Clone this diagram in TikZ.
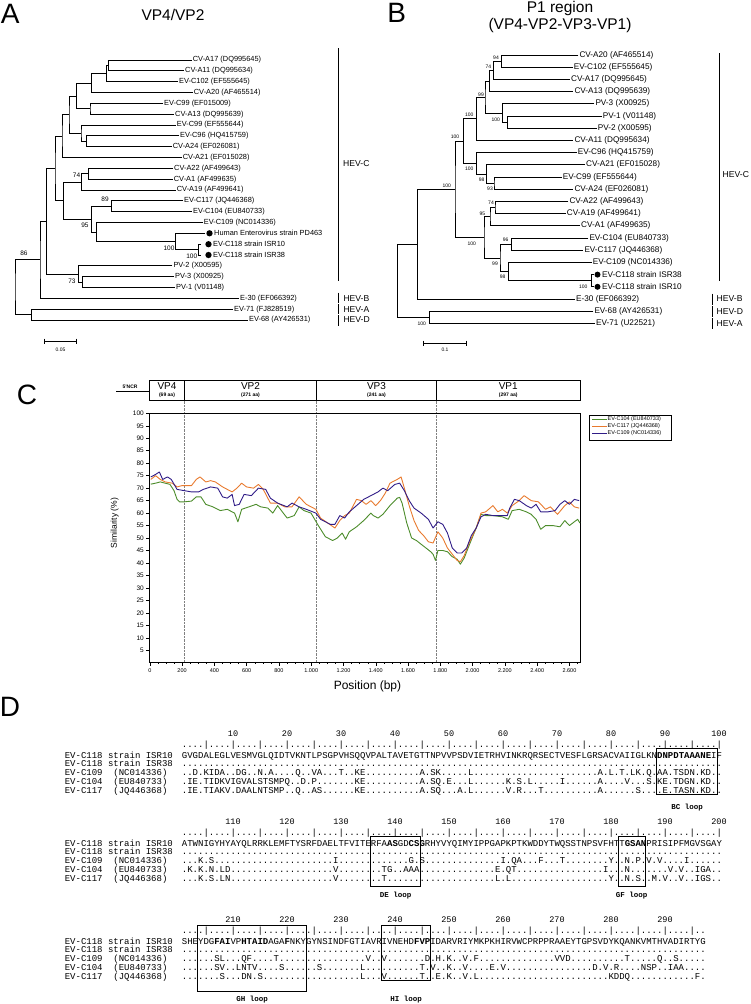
\documentclass[tikz,border=0pt]{standalone}
\usepackage{fontspec}
\setmainfont{Liberation Sans}
\newfontfamily\seqfont{Liberation Mono}
\newcommand{\dotrun}[1]{\foreach \k in {1,...,#1}{.}}
\definecolor{cvgreen}{HTML}{4C8C2B}
\definecolor{cvorange}{HTML}{E87A2E}
\definecolor{cvpurple}{HTML}{301C87}
\tikzset{
  branch/.style={line width=0.7pt},
  cladebar/.style={line width=0.9pt},
  leafA/.style={anchor=west, inner sep=1pt, font=\fontsize{7.4}{8}\selectfont},
  leafB/.style={anchor=west, inner sep=1pt, font=\fontsize{8.2}{9}\selectfont},
  bootA/.style={inner sep=0pt, font=\fontsize{6.5}{7}\selectfont},
  bootB/.style={inner sep=0pt, font=\fontsize{5}{6}\selectfont},
  clade/.style={anchor=west, inner sep=0pt, font=\fontsize{8.6}{9}\selectfont},
  strain/.style={circle, fill=black, inner sep=0pt, minimum size=6.3pt},
  panel/.style={inner sep=0pt, font=\fontsize{28}{28}\selectfont},
  title/.style={inner sep=0pt, align=center, font=\fontsize{15.5}{17.5}\selectfont},
  scalelab/.style={inner sep=0pt, font=\fontsize{5}{6}\selectfont},
  vpname/.style={inner sep=0pt, font=\fontsize{10}{11}\selectfont},
  vpsize/.style={inner sep=0pt, font=\bfseries\fontsize{5}{6}\selectfont},
  vpsep/.style={densely dotted, gray, line width=0.4pt},
  frame/.style={line width=0.9pt},
  curve/.style={line width=0.9pt, line join=round},
  legendlab/.style={anchor=west, inner sep=0pt, font=\fontsize{5.5}{6}\selectfont},
  seqrow/.style={anchor=base west, inner sep=0pt, font=\seqfont\fontsize{9}{9}\selectfont},
  seqnum/.style={anchor=base, inner sep=0pt, font=\seqfont\fontsize{8.5}{9}\selectfont},
  loopbox/.style={line width=0.8pt},
  looplab/.style={anchor=base, inner sep=0pt, font=\seqfont\bfseries\fontsize{7.5}{8}\selectfont}
}
\begin{document}
\begin{tikzpicture}[x=1pt,y=-1pt]
\useasboundingbox (0,0) rectangle (750,1004);

\node[panel] (pA) at (10.3,14.2) {A};
\node[title] (tA) at (173,14.5) {VP4/VP2};
\node[panel] (pB) at (396.7,12.5) {B};
\node[title] (tB) at (560,17) {P1 region\\(VP4-VP2-VP3-VP1)};

% tree A
\node[leafA] (a17) at (191.7,60) {CV-A17 (DQ995645)};
\node[leafA] (a11) at (184,70.8) {CV-A11 (DQ995634)};
\node[leafA] (c102) at (178,81.7) {EV-C102 (EF555645)};
\node[leafA] (a20) at (192.7,92.5) {CV-A20 (AF465514)};
\node[leafA] (c99x) at (163,103.3) {EV-C99 (EF015009)};
\node[leafA] (a13) at (174,114.2) {CV-A13 (DQ995639)};
\node[leafA] (c99) at (175.7,125) {EV-C99 (EF555644)};
\node[leafA] (c96) at (179,135.8) {EV-C96 (HQ415759)};
\node[leafA] (a24) at (171.7,146.7) {CV-A24 (EF026081)};
\node[leafA] (a21) at (181.7,157.5) {CV-A21 (EF015028)};
\node[leafA] (a22) at (173,168.3) {CV-A22 (AF499643)};
\node[leafA] (a1) at (172.7,179.2) {CV-A1 (AF499635)};
\node[leafA] (a19) at (175.7,190) {CV-A19 (AF499641)};
\node[leafA] (c117) at (183,200.8) {EV-C117 (JQ446368)};
\node[leafA] (c104) at (192,211.7) {EV-C104 (EU840733)};
\node[leafA] (c109) at (202.7,222.5) {EV-C109 (NC014336)};
\coordinate (tpd) at (205,233.3);
\node[strain] (dpd) at (209.5,233.3) {};
\node[leafA] (pd) at (213,233.3) {Human Enterovirus strain PD463};
\coordinate (tisr10) at (201,244.2);
\node[strain] (disr10) at (208.5,244.2) {};
\node[leafA] (isr10) at (212,244.2) {EV-C118 strain ISR10};
\coordinate (tisr38) at (201,255);
\node[strain] (disr38) at (208.5,255) {};
\node[leafA] (isr38) at (212,255) {EV-C118 strain ISR38};
\node[leafA] (pv2) at (172.3,265.8) {PV-2 (X00595)};
\node[leafA] (pv3) at (174,276.7) {PV-3 (X00925)};
\node[leafA] (pv1) at (175,287.5) {PV-1 (V01148)};
\node[leafA] (e30) at (239,298.3) {E-30 (EF066392)};
\node[leafA] (ev71) at (233,309.2) {EV-71 (FJ828519)};
\node[leafA] (ev68) at (248,320) {EV-68 (AY426531)};

\coordinate (kA1) at (108.3,65.4);
\coordinate (kA2) at (106.7,73.6);
\coordinate (kA3) at (91.7,83);
\coordinate (kA4) at (90,108.8);
\coordinate (kA5) at (76.7,95.9);
\coordinate (kA6) at (86.7,141.3);
\coordinate (kA7) at (81,133.1);
\coordinate (kA8) at (69,114.5);
\coordinate (kA9) at (62,136);
\coordinate (kA10) at (88.3,173.8);
\coordinate (kA11) at (81.7,181.9);
\coordinate (kA12) at (111.7,206.3);
\coordinate (kA13) at (198.5,249.6);
\coordinate (kA14) at (175.7,241.5);
\coordinate (kA15) at (96.7,232);
\coordinate (kA16) at (91.7,219.2);
\coordinate (kA17) at (63.3,200.5);
\coordinate (kA18) at (55,168.3);
\coordinate (kA19) at (82.7,282.1);
\coordinate (kA20) at (78.3,273.9);
\coordinate (kA21) at (46.7,221.1);
\coordinate (kA22) at (40,259.7);
\coordinate (kA23) at (31.7,314.6);
\coordinate (kA0) at (15,287.2);

\draw[branch] (a17.west) -| (kA1) |- (a11.west);
\draw[branch] (kA1) -| (kA2) |- (c102.west);
\draw[branch] (kA2) -| (kA3) |- (a20.west);
\draw[branch] (c99x.west) -| (kA4) |- (a13.west);
\draw[branch] (kA3) -| (kA5) |- (kA4);
\draw[branch] (c96.west) -| (kA6) |- (a24.west);
\draw[branch] (c99.west) -| (kA7) |- (kA6);
\draw[branch] (kA5) -| (kA8) |- (kA7);
\draw[branch] (kA8) -| (kA9) |- (a21.west);
\draw[branch] (a22.west) -| (kA10) |- (a1.west);
\draw[branch] (kA10) -| (kA11) |- (a19.west);
\draw[branch] (c117.west) -| (kA12) |- (c104.west);
\draw[branch] (tisr10) -| (kA13) |- (tisr38);
\draw[branch] (tpd) -| (kA14) |- (kA13);
\draw[branch] (c109.west) -| (kA15) |- (kA14);
\draw[branch] (kA12) -| (kA16) |- (kA15);
\draw[branch] (kA11) -| (kA17) |- (kA16);
\draw[branch] (kA9) -| (kA18) |- (kA17);
\draw[branch] (pv3.west) -| (kA19) |- (pv1.west);
\draw[branch] (pv2.west) -| (kA20) |- (kA19);
\draw[branch] (kA18) -| (kA21) |- (kA20);
\draw[branch] (kA21) -| (kA22) |- (e30.west);
\draw[branch] (ev71.west) -| (kA23) |- (ev68.west);
\draw[branch] (kA22) -| (kA0) |- (kA23);

\node[bootA] (bsA74) at (76.5,175.5) {74};
\node[bootA] (bsA89) at (105,199.5) {89};
\node[bootA] (bsA95) at (85,225.5) {95};
\node[bootA] (bsA100a) at (169,248.3) {100};
\node[bootA] (bsA100b) at (191.7,256.3) {100};
\node[bootA] (bsA86) at (24,253.5) {86};
\node[bootA] (bsA73) at (72,280.8) {73};

\coordinate (hcA1) at (338.3,48.3);
\coordinate (hcA2) at (338.3,280.7);
\draw[cladebar] (hcA1) -- (hcA2);
\node[clade] (hevcA) at (343,164) {HEV-C};
\coordinate (hbA1) at (338.3,292.7);
\coordinate (hbA2) at (338.3,303);
\draw[cladebar] (hbA1) -- (hbA2);
\node[clade] (hevbA) at (343.3,298.3) {HEV-B};
\coordinate (haA1) at (338.3,304.3);
\coordinate (haA2) at (338.3,314);
\draw[cladebar] (haA1) -- (haA2);
\node[clade] (hevaA) at (343.3,309.2) {HEV-A};
\coordinate (hdA1) at (338.3,315);
\coordinate (hdA2) at (338.3,325.5);
\draw[cladebar] (hdA1) -- (hdA2);
\node[clade] (hevdA) at (343.3,320) {HEV-D};

\draw[branch] (44.5,338.5) -- (44.5,343.5) (44.5,341) -- (76.5,341) (76.5,338.5) -- (76.5,343.5);
\node[scalelab] (sA) at (60.5,350) {0.05};

% tree B
\node[leafB] (bA20) at (578.3,55) {CV-A20 (AF465514)};
\node[leafB] (bC102) at (572.7,67.2) {EV-C102 (EF555645)};
\node[leafB] (bA17) at (570,79.4) {CV-A17 (DQ995645)};
\node[leafB] (bA13) at (573.3,91.6) {CV-A13 (DQ995639)};
\node[leafB] (bPV3) at (594.3,103.8) {PV-3 (X00925)};
\node[leafB] (bPV1) at (601.7,116) {PV-1 (V01148)};
\node[leafB] (bPV2) at (596.7,128.2) {PV-2 (X00595)};
\node[leafB] (bA11) at (573.3,140.4) {CV-A11 (DQ995634)};
\node[leafB] (bC96) at (576.7,152.6) {EV-C96 (HQ415759)};
\node[leafB] (bA21) at (585,164.8) {CV-A21 (EF015028)};
\node[leafB] (bC99) at (561.7,177) {EV-C99 (EF555644)};
\node[leafB] (bA24) at (573.3,189.2) {CV-A24 (EF026081)};
\node[leafB] (bA22) at (568.3,201.4) {CV-A22 (AF499643)};
\node[leafB] (bA19) at (565.7,213.6) {CV-A19 (AF499641)};
\node[leafB] (bA1) at (580,225.8) {CV-A1 (AF499635)};
\node[leafB] (bC104) at (588.3,238) {EV-C104 (EU840733)};
\node[leafB] (bC117) at (583.3,250.2) {EV-C117 (JQ446368)};
\node[leafB] (bC109) at (591.7,262.4) {EV-C109 (NC014336)};
\coordinate (tb38) at (593.5,274.6);
\node[strain, minimum size=6pt] (db38) at (597.5,274.6) {};
\node[leafB] (bISR38) at (601,274.6) {EV-C118 strain ISR38};
\coordinate (tb10) at (593.5,286.8);
\node[strain, minimum size=6pt] (db10) at (597.5,286.8) {};
\node[leafB] (bISR10) at (601,286.8) {EV-C118 strain ISR10};
\node[leafB] (bE30) at (575,299) {E-30 (EF066392)};
\node[leafB] (bEV68) at (593.3,311.2) {EV-68 (AY426531)};
\node[leafB] (bEV71) at (595,323.4) {EV-71 (U22521)};

\coordinate (kB1) at (501.7,61.1);
\coordinate (kB2) at (493.7,70.3);
\coordinate (kB3) at (489.3,81);
\coordinate (kB4) at (507.7,122.1);
\coordinate (kB5) at (502.7,113);
\coordinate (kB6) at (485,97);
\coordinate (kB7) at (476.7,118.7);
\coordinate (kB8) at (494,183.1);
\coordinate (kB9) at (486.7,174);
\coordinate (kB10) at (476.7,163.3);
\coordinate (kB11) at (463.3,141);
\coordinate (kB12) at (495,207.5);
\coordinate (kB13) at (490,216.7);
\coordinate (kB14) at (511.7,244.1);
\coordinate (kB15) at (591.7,280.7);
\coordinate (kB16) at (508.3,271.6);
\coordinate (kB17) at (500,257.9);
\coordinate (kB18) at (484,237.3);
\coordinate (kB19) at (455,189.2);
\coordinate (kB20) at (417.7,244.1);
\coordinate (kB21) at (429.3,317.3);
\coordinate (kB0) at (397.7,280.7);

\draw[branch] (bA20.west) -| (kB1) |- (bC102.west);
\draw[branch] (kB1) -| (kB2) |- (bA17.west);
\draw[branch] (kB2) -| (kB3) |- (bA13.west);
\draw[branch] (bPV1.west) -| (kB4) |- (bPV2.west);
\draw[branch] (bPV3.west) -| (kB5) |- (kB4);
\draw[branch] (kB3) -| (kB6) |- (kB5);
\draw[branch] (kB6) -| (kB7) |- (bA11.west);
\draw[branch] (bC99.west) -| (kB8) |- (bA24.west);
\draw[branch] (bA21.west) -| (kB9) |- (kB8);
\draw[branch] (bC96.west) -| (kB10) |- (kB9);
\draw[branch] (kB7) -| (kB11) |- (kB10);
\draw[branch] (bA22.west) -| (kB12) |- (bA19.west);
\draw[branch] (kB12) -| (kB13) |- (bA1.west);
\draw[branch] (bC104.west) -| (kB14) |- (bC117.west);
\draw[branch] (tb38) -| (kB15) |- (tb10);
\draw[branch] (bC109.west) -| (kB16) |- (kB15);
\draw[branch] (kB14) -| (kB17) |- (kB16);
\draw[branch] (kB13) -| (kB18) |- (kB17);
\draw[branch] (kB11) -| (kB19) |- (kB18);
\draw[branch] (kB19) -| (kB20) |- (bE30.west);
\draw[branch] (bEV68.west) -| (kB21) |- (bEV71.west);
\draw[branch] (kB20) -| (kB0) |- (kB21);

\node[bootB] (bsB1) at (496,58) {94};
\node[bootB] (bsB2) at (488.3,66.7) {74};
\node[bootB] (bsB3) at (481,95) {99};
\node[bootB] (bsB4) at (495.7,120) {100};
\node[bootB] (bsB5) at (469.3,115) {100};
\node[bootB] (bsB6) at (455,136.7) {100};
\node[bootB] (bsB7) at (469.3,169) {100};
\node[bootB] (bsB8) at (481.7,179.3) {98};
\node[bootB] (bsB9) at (490,189) {93};
\node[bootB] (bsB10) at (446.7,186) {100};
\node[bootB] (bsB11) at (491,202.7) {74};
\node[bootB] (bsB12) at (482.3,213.3) {95};
\node[bootB] (bsB13) at (505.7,240) {96};
\node[bootB] (bsB14) at (471.7,244) {100};
\node[bootB] (bsB15) at (495,263.3) {99};
\node[bootB] (bsB16) at (502.7,276.7) {98};
\node[bootB] (bsB17) at (583.3,286.7) {100};
\node[bootB] (bsB18) at (421.7,324) {100};

\coordinate (hcB1) at (719,53.3);
\coordinate (hcB2) at (719,280.7);
\draw[cladebar] (hcB1) -- (hcB2);
\node[clade] (hevcB) at (722.5,175) {HEV-C};
\coordinate (hbB1) at (712.3,293.5);
\coordinate (hbB2) at (712.3,304.5);
\draw[cladebar] (hbB1) -- (hbB2);
\node[clade] (hevbB) at (716.5,299) {HEV-B};
\coordinate (hdB1) at (712.3,305.7);
\coordinate (hdB2) at (712.3,316.7);
\draw[cladebar] (hdB1) -- (hdB2);
\node[clade] (hevdB) at (716.5,311.2) {HEV-D};
\coordinate (haB1) at (712.3,318);
\coordinate (haB2) at (712.3,329);
\draw[cladebar] (haB1) -- (haB2);
\node[clade] (hevaB) at (716.5,323.4) {HEV-A};

\draw[branch] (423.4,340.5) -- (423.4,345.5) (423.4,343) -- (466.5,343) (466.5,340.5) -- (466.5,345.5);
\node[scalelab] (sB) at (445,350) {0.1};

% panel C
\node[panel] (pC) at (27,395) {C};
\node[vpsize] (ncr) at (130,386.5) {5'NCR};
\draw[line width=1.2pt] (116,391.5) -- (149.8,391.5);
\draw[frame] (149.8,380) rectangle (580,400.7);
\draw[frame] (184.2,380) -- (184.2,400.7) (316.7,380) -- (316.7,400.7) (436.4,380) -- (436.4,400.7);
\node[vpname] (vp4) at (167,386.5) {VP4};
\node[vpsize] (vp4s) at (167,395.5) {(69 aa)};
\node[vpname] (vp2) at (250.5,386.5) {VP2};
\node[vpsize] (vp2s) at (250.5,395.5) {(271 aa)};
\node[vpname] (vp3) at (376.5,386.5) {VP3};
\node[vpsize] (vp3s) at (376.5,395.5) {(241 aa)};
\node[vpname] (vp1) at (508.2,386.5) {VP1};
\node[vpsize] (vp1s) at (508.2,395.5) {(297 aa)};

\begin{scope}[x=0.1614pt, y=2.4937pt, shift={(149.8pt,-662.7pt)}]
\foreach \b in {213,1034,1776} \draw[vpsep] (\b,0) -- (\b,105.1);
\draw[frame] (0,0) rectangle (2665,100);
\foreach \s in {5,10,...,100}
  \draw[line width=0.5pt] (0,\s) -- ++(-4.3pt,0) node[anchor=east, inner sep=1.5pt, font=\fontsize{6.5}{7}\selectfont] {\s};
\foreach \b in {50,100,...,2650} \draw[line width=0.4pt] (\b,0) -- ++(0,-1.6pt);
\foreach \b/\l in {0/0,200/200,400/400,600/600,800/800,1000/1.000,1200/1.200,1400/1.400,1600/1.600,1800/1.800,2000/2.000,2200/2.200,2400/2.400,2600/2.600}
  \draw[line width=0.5pt] (\b,0) -- ++(0,-3pt) node[anchor=north, inner sep=2.5pt, font=\fontsize{5.5}{6}\selectfont] {\l};
\draw[curve, cvgreen] plot coordinates {(6,71.6) (36,72) (65,72.5) (95,72) (125,71.5) (150,69) (169,65.5) (184,64.5) (213,64.5) (258,64.8) (288,66.5) (317,66.5) (347,63.5) (391,62.5) (436,61) (480,61.5) (525,60) (546,56.5) (569,61.5) (614,62.5) (658,63.5) (688,62.5) (732,62) (762,60) (792,63) (821,60.5) (851,58) (895,59) (925,62.5) (955,61) (999,60) (1044,55) (1088,50.5) (1133,49) (1162,50) (1192,52) (1213,49.5) (1236,52.5) (1281,54.5) (1325,57) (1370,60) (1385,59) (1414,58) (1444,59.5) (1488,63) (1533,66) (1548,66.3) (1563,64) (1592,56) (1622,50) (1652,49) (1681,47.5) (1711,46) (1740,44.5) (1755,43.5) (1770,41) (1785,45) (1815,45) (1844,44.5) (1874,42.5) (1904,41.5) (1924,39.5) (1948,42) (1978,47) (2022,54) (2052,59.5) (2081,59) (2126,59) (2185,58.5) (2221,57.5) (2245,61) (2289,61.5) (2333,60.5) (2363,59.5) (2393,57.5) (2422,53.5) (2452,55) (2497,55) (2541,54.5) (2571,57) (2600,55) (2630,56.5) (2651,57.5) (2665,56)};
\draw[curve, cvorange] plot coordinates {(6,73.5) (36,75) (65,73.5) (95,72.5) (139,72) (169,70.5) (199,71) (228,71) (258,71) (288,73.5) (311,74.5) (347,72.5) (377,73) (406,72.5) (451,70.5) (480,69.5) (510,68.5) (540,70) (569,72) (599,70.5) (643,70) (673,71.5) (703,69.5) (747,64) (792,64) (836,62.5) (881,62.5) (925,66.5) (970,63.5) (999,62.5) (1029,61.5) (1058,58) (1103,56) (1147,54) (1177,57) (1207,59) (1236,60) (1281,65.5) (1311,65) (1340,63.5) (1370,65) (1399,63) (1429,65) (1459,68) (1488,72) (1533,73.5) (1557,74.5) (1577,70) (1607,63) (1637,57) (1666,53) (1696,51) (1726,48.5) (1755,48) (1785,52.5) (1815,50) (1844,46) (1874,43.5) (1904,41) (1924,40.5) (1948,43) (1978,48) (2022,54) (2052,60) (2081,60.5) (2126,63) (2156,60.5) (2185,61.5) (2215,60) (2245,63) (2289,65) (2319,67) (2363,65) (2408,64.5) (2452,61.5) (2482,62.5) (2526,59.5) (2571,63) (2600,64.5) (2630,62.5) (2660,62)};
\draw[curve, cvpurple] plot coordinates {(6,74.5) (36,75.5) (59,76.5) (80,73.5) (110,74.5) (133,73.5) (169,69.5) (213,69) (258,68.5) (302,68.5) (332,69.5) (377,70.5) (421,70) (451,66.5) (480,66) (510,67.5) (525,63) (554,63.5) (584,67.5) (629,67) (673,70) (718,69.5) (747,66) (792,64) (851,62.5) (881,64) (925,62.5) (970,61.5) (1029,60) (1058,57.5) (1088,56.5) (1118,55.5) (1147,55.5) (1177,59) (1207,58) (1236,60.5) (1281,63) (1325,65.5) (1370,67) (1414,68.5) (1444,70) (1474,69) (1518,71.5) (1548,72) (1577,69) (1607,65) (1637,62) (1681,60) (1726,57.5) (1755,54) (1785,56.5) (1815,55.5) (1844,52) (1874,46) (1904,44) (1933,44) (1963,46) (1992,51) (2022,54) (2052,58.5) (2081,59.5) (2126,59) (2170,59) (2215,59) (2230,62) (2259,65.5) (2289,65) (2333,63) (2363,62) (2393,63.5) (2422,60.5) (2467,60.5) (2511,61) (2541,63.5) (2571,65) (2600,63.5) (2630,65.5) (2660,65)};
\end{scope}
\node[rotate=90, inner sep=0pt, font=\fontsize{8.5}{9}\selectfont] (ylab) at (114.8,523) {Similarity (\%)};
\node[inner sep=0pt, font=\fontsize{12}{13}\selectfont] (xlab) at (367.5,686.7) {Position (bp)};

\draw[line width=0.6pt] (589.5,415) rectangle (670.8,440);
\draw[line width=1.3pt, cvgreen] (592,419.3) -- (606.5,419.3);
\draw[line width=1.3pt, cvorange] (592,426.4) -- (606.5,426.4);
\draw[line width=1.3pt, cvpurple] (592,433.5) -- (606.5,433.5);
\node[legendlab] (lg104) at (607.5,419.3) {EV-C104 (EU840733)};
\node[legendlab] (lg117) at (607.5,426.4) {EV-C117 (JQ446368)};
\node[legendlab] (lg109) at (607.5,433.5) {EV-C109 (NC014336)};

% panel D
\node[panel] (pD) at (10,707) {D};
\foreach \b in {758,846,944} {
  \node[seqrow] at (64.6,\b) {EV-C118 strain ISR10};
  \node[seqrow] at (64.6,\b+8.75) {EV-C118 strain ISR38};
  \node[seqrow] at (64.6,\b+17.5) {EV-C109\ \ (NC014336)};
  \node[seqrow] at (64.6,\b+26.25) {EV-C104\ \ (EU840733)};
  \node[seqrow] at (64.6,\b+35) {EV-C117\ \ (JQ446368)};
}
\foreach \c in {10,20,...,100} \node[seqnum] at ({181.7+(\c-0.5)*5.4},736) {\c};
\foreach \c [evaluate=\c as \lab using {int(\c+100)}] in {10,20,...,100} \node[seqnum] at ({181.7+(\c-0.5)*5.4},824) {\lab};
\foreach \c [evaluate=\c as \lab using {int(\c+200)}] in {10,20,...,90} \node[seqnum] at ({181.7+(\c-0.5)*5.4},922) {\lab};

\node[seqrow] (r1) at (181.7,747) {\foreach \k in {1,...,20}{....|}};
\node[seqrow] (s1a) at (181.7,758) {GVGDALEGLVESMVGLQIDTVKNTLPSGPVHSQQVPALTAVETGTTNPVVPSDVIETRHVINKRQRSECTVESFLGRSACVAIIGLKN{\bfseries DNPDTAAANE}IF};
\node[seqrow] (s1b) at (181.7,766.75) {\dotrun{100}};
\node[seqrow] (s1c) at (181.7,775.5) {..D.KIDA..DG..N.A....Q..VA...T..KE\dotrun{10}A.SK.....L\dotrun{23}A.L.T.LK.Q.AA.TSDN.KD..};
\node[seqrow] (s1d) at (181.7,784.25) {.IE.TIDKVIGVALSTSMPQ..D.P.......KE\dotrun{10}A.SQ.E...L......K.S.L.....I......A....V...S.KE.TDGN.KD..};
\node[seqrow] (s1e) at (181.7,793) {.IE.TIAKV.DAALNTSMP..Q..AS......KE\dotrun{10}A.SQ...A.L......V.R...T\dotrun{10}A......S....E.TASN.KD..};
\draw[loopbox] (656.5,748) rectangle (717.5,794.5);
\node[looplab] (bc) at (687,809) {BC loop};

\node[seqrow] (r2) at (181.7,835) {\foreach \k in {1,...,20}{....|}};
\node[seqrow] (s2a) at (181.7,846) {ATWNIGYHYAYQLRRKLEMFTYSRFDAELTFVITERFA{\bfseries AS}GD{\bfseries CSG}RHYVYQIMYIPPGAPKPTKWDDYTWQSSTNPSVFHTT{\bfseries GSAN}PRISIPFMGVSGAY};
\node[seqrow] (s2b) at (181.7,854.75) {\dotrun{100}};
\node[seqrow] (s2c) at (181.7,863.5) {...K.S\dotrun{22}I\dotrun{13}G.S\dotrun{14}I.QA...F...T........Y..N.P.V.V....I......};
\node[seqrow] (s2d) at (181.7,872.25) {.K.K.N.LD\dotrun{19}V........TG..AAA\dotrun{14}E.QT\dotrun{16}I...N.......V.V..IGA..};
\node[seqrow] (s2e) at (181.7,881) {...K.S.LN\dotrun{19}V........T\dotrun{20}L.L\dotrun{18}Y..N.S..M.V..V..IGS..};
\draw[loopbox] (370.5,836) rectangle (420.5,886);
\draw[loopbox] (618,836) rectangle (645.5,886);
\node[looplab] (de) at (395.5,897) {DE loop};
\node[looplab] (gf) at (631.5,897) {GF loop};

\node[seqrow] (r3) at (181.7,933) {\foreach \k in {1,...,19}{....|}..};
\node[seqrow] (s3a) at (181.7,944) {SHEYDG{\bfseries FAI}VP{\bfseries HTAID}AGA{\bfseries F}NKYGYNSINDFGTIAVRIVNEHD{\bfseries FVP}IDARVRIYMKPKHIRVWCPRPPRAAEYTGPSVDYKQANKVMTHVADIRTYG};
\node[seqrow] (s3b) at (181.7,952.75) {\dotrun{97}};
\node[seqrow] (s3c) at (181.7,961.5) {......SL...QF....T\dotrun{16}V..V.......D.H.K..V.F\dotrun{14}VVD\dotrun{10}T.....Q..S.....};
\node[seqrow] (s3d) at (181.7,970.25) {......SV..LNTV....S......S.......L\dotrun{10}T.V..K..V....E.V\dotrun{16}D.V.R....NSP..IAA....};
\node[seqrow] (s3e) at (181.7,979) {.......S...DN.S\dotrun{18}L...V......T..E.K..V.L\dotrun{24}KDDQ\dotrun{12}F.};
\draw[loopbox] (197.5,925.5) rectangle (306,991);
\draw[loopbox] (381.5,925.5) rectangle (430.5,980);
\node[looplab] (gh) at (252,1001.5) {GH loop};
\node[looplab] (hi) at (406,1001.5) {HI loop};
\end{tikzpicture}
\end{document}
